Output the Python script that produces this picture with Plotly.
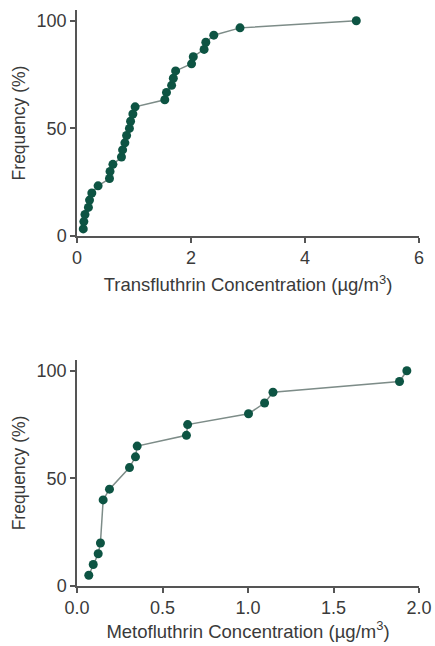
import plotly.graph_objects as go

# Transfluthrin cumulative frequency
trans_conc = [0.11, 0.12, 0.14, 0.20, 0.22, 0.26, 0.37, 0.57, 0.58, 0.63,
              0.78, 0.80, 0.84, 0.87, 0.92, 0.94, 0.98, 1.02, 1.54, 1.57,
              1.66, 1.69, 1.73, 2.01, 2.04, 2.23, 2.26, 2.40, 2.86, 4.90]
trans_freq = [3.3, 6.7, 10.0, 13.3, 16.7, 20.0, 23.3, 26.7, 30.0, 33.3,
              36.7, 40.0, 43.3, 46.7, 50.0, 53.3, 56.7, 60.0, 63.3, 66.7,
              70.0, 73.3, 76.7, 80.0, 83.3, 86.7, 90.0, 93.3, 96.7, 100.0]

# Metofluthrin cumulative frequency
meto_conc = [0.069, 0.095, 0.124, 0.137, 0.153, 0.19, 0.307, 0.342, 0.352,
             0.64, 0.647, 1.003, 1.097, 1.146, 1.886, 1.929]
meto_freq = [5, 10, 15, 20, 40, 45, 55, 60, 65, 70, 75, 80, 85, 90, 95, 100]

x_ticks_top = [0, 2, 4, 6]
x_ticks_bot = [0.0, 0.5, 1.0, 1.5, 2.0]
x_ticklabels_bot = ["0.0", "0.5", "1.0", "1.5", "2.0"]
y_ticks = [0, 50, 100]

MARKER = "#0d5443"
LINE = "#7d8c88"
AXIS = "#555555"
TEXT = "#3a3a3a"
FONT = "Liberation Sans, Arial, sans-serif"

fig = go.Figure()
fig.add_trace(go.Scatter(x=trans_conc, y=trans_freq, mode="lines+markers",
                         line=dict(color=LINE, width=1.5),
                         marker=dict(color=MARKER, size=9),
                         cliponaxis=False, xaxis="x", yaxis="y"))
fig.add_trace(go.Scatter(x=meto_conc, y=meto_freq, mode="lines+markers",
                         line=dict(color=LINE, width=1.5),
                         marker=dict(color=MARKER, size=9),
                         cliponaxis=False, xaxis="x2", yaxis="y2"))

axis_common = dict(showline=True, linecolor=AXIS, linewidth=1.5, ticks="outside",
                   tickcolor=AXIS, ticklen=5, tickwidth=1.5, showgrid=False,
                   zeroline=False, automargin=False,
                   tickfont=dict(size=18, color=TEXT, family=FONT))

fig.update_layout(
    width=435, height=646,
    margin=dict(l=77, r=16, t=10, b=60),
    paper_bgcolor="white", plot_bgcolor="white",
    showlegend=False,
    font=dict(family=FONT, color=TEXT),
    xaxis=dict(domain=[0, 1], range=[0, 6], tickvals=x_ticks_top, anchor="y",
               title=dict(text="Transfluthrin Concentration (µg/m<sup>3</sup>)",
                          font=dict(size=18.5), standoff=11),
               **axis_common),
    yaxis=dict(domain=[0.6076, 1.0], range=[0, 105], tickvals=y_ticks, anchor="x",
               title=dict(text="Frequency (%)", font=dict(size=17.5), standoff=6),
               **axis_common),
    xaxis2=dict(domain=[0, 1], range=[0, 2], tickvals=x_ticks_bot,
                ticktext=x_ticklabels_bot, anchor="y2",
                title=dict(text="Metofluthrin Concentration (µg/m<sup>3</sup>)",
                           font=dict(size=18.5), standoff=4),
                **axis_common),
    yaxis2=dict(domain=[0, 0.3924], range=[0, 105], tickvals=y_ticks, anchor="x2",
                title=dict(text="Frequency (%)", font=dict(size=17.5), standoff=6),
                **axis_common),
)

fig.write_html("out.html")
